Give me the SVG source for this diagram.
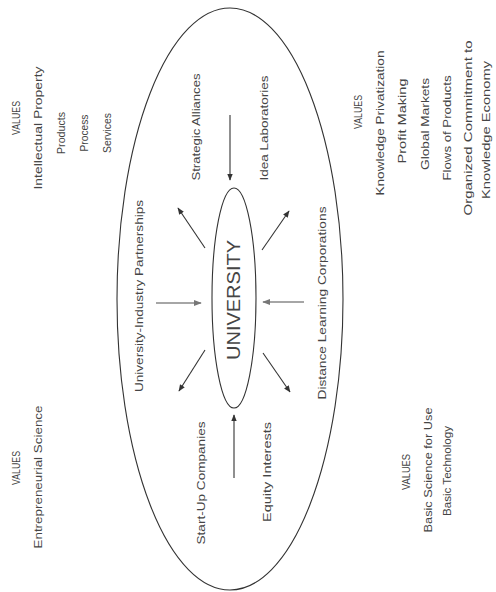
<svg xmlns="http://www.w3.org/2000/svg" width="496" height="592" viewBox="0 0 496 592">
<style>
  text { font-family: "Liberation Sans", Arial, sans-serif; fill: #454545; text-anchor: middle; }
  .v { font-size: 10.5px; }
  .lab { font-size: 10.5px; }
  .uni { font-size: 19px; }
  .ell { fill: none; stroke: #333; stroke-width: 1.1; }
  .arr { stroke: #333; stroke-width: 1.1; fill: none; marker-end: url(#ah); }
  .arrg { stroke: #888; stroke-width: 1.3; fill: none; marker-end: url(#ahg); }
</style>
<defs>
  <marker id="ah" viewBox="0 0 10 10" refX="9" refY="5" markerWidth="7" markerHeight="7" orient="auto" markerUnits="userSpaceOnUse">
    <path d="M0,1 L10,5 L0,9 z" fill="#333"/>
  </marker>
  <marker id="ahg" viewBox="0 0 10 10" refX="9" refY="5" markerWidth="8" markerHeight="8" orient="auto" markerUnits="userSpaceOnUse">
    <path d="M0,1 L10,5 L0,9 z" fill="#777"/>
  </marker>
</defs>
<rect width="496" height="592" fill="#fff"/>

<g id="outer">
  <ellipse class="ell" cx="230" cy="299" rx="113" ry="291"/>
</g>
<g id="university">
  <ellipse class="ell" cx="234" cy="298" rx="22" ry="110"/>
  <text class="uni" transform="translate(240,300) rotate(-90)" textLength="120" lengthAdjust="spacingAndGlyphs">UNIVERSITY</text>
</g>

<g id="strategic-alliances"><text class="lab" transform="translate(200,127) rotate(-90)" textLength="107" lengthAdjust="spacingAndGlyphs">Strategic Alliances</text></g>
<g id="idea-laboratories"><text class="lab" transform="translate(268,128) rotate(-90)" textLength="105" lengthAdjust="spacingAndGlyphs">Idea Laboratories</text></g>
<g id="university-industry"><text class="lab" transform="translate(143,296) rotate(-90)" textLength="192" lengthAdjust="spacingAndGlyphs">University-Industry Partnerships</text></g>
<g id="distance-learning"><text class="lab" transform="translate(326,303) rotate(-90)" textLength="193" lengthAdjust="spacingAndGlyphs">Distance Learning Corporations</text></g>
<g id="start-up"><text class="lab" transform="translate(205,483) rotate(-90)" textLength="123" lengthAdjust="spacingAndGlyphs">Start-Up Companies</text></g>
<g id="equity"><text class="lab" transform="translate(271,472) rotate(-90)" textLength="100" lengthAdjust="spacingAndGlyphs">Equity Interests</text></g>

<g id="values-top-left">
  <text class="v" transform="translate(20,118) rotate(-90)" textLength="34" lengthAdjust="spacingAndGlyphs">VALUES</text>
  <text class="v" transform="translate(42,128) rotate(-90)" textLength="123" lengthAdjust="spacingAndGlyphs">Intellectual Property</text>
  <text class="v" transform="translate(65,133) rotate(-90)" textLength="42" lengthAdjust="spacingAndGlyphs">Products</text>
  <text class="v" transform="translate(88,133) rotate(-90)" textLength="37" lengthAdjust="spacingAndGlyphs">Process</text>
  <text class="v" transform="translate(111,133) rotate(-90)" textLength="40" lengthAdjust="spacingAndGlyphs">Services</text>
</g>
<g id="values-top-right">
  <text class="v" transform="translate(362,112) rotate(-90)" textLength="34" lengthAdjust="spacingAndGlyphs">VALUES</text>
  <text class="v" transform="translate(384,123) rotate(-90)" textLength="145" lengthAdjust="spacingAndGlyphs">Knowledge Privatization</text>
  <text class="v" transform="translate(406,121) rotate(-90)" textLength="85" lengthAdjust="spacingAndGlyphs">Profit Making</text>
  <text class="v" transform="translate(429,124) rotate(-90)" textLength="92" lengthAdjust="spacingAndGlyphs">Global Markets</text>
  <text class="v" transform="translate(451,128) rotate(-90)" textLength="105" lengthAdjust="spacingAndGlyphs">Flows of Products</text>
  <text class="v" transform="translate(472,128) rotate(-90)" textLength="175" lengthAdjust="spacingAndGlyphs">Organized Commitment to</text>
  <text class="v" transform="translate(490,130) rotate(-90)" textLength="138" lengthAdjust="spacingAndGlyphs">Knowledge Economy</text>
</g>
<g id="values-bottom-left">
  <text class="v" transform="translate(20,468) rotate(-90)" textLength="34" lengthAdjust="spacingAndGlyphs">VALUES</text>
  <text class="v" transform="translate(42,477) rotate(-90)" textLength="143" lengthAdjust="spacingAndGlyphs">Entrepreneurial Science</text>
</g>
<g id="values-bottom-right">
  <text class="v" transform="translate(410,472) rotate(-90)" textLength="36" lengthAdjust="spacingAndGlyphs">VALUES</text>
  <text class="v" transform="translate(432,470) rotate(-90)" textLength="125" lengthAdjust="spacingAndGlyphs">Basic Science for Use</text>
  <text class="v" transform="translate(451,471) rotate(-90)" textLength="90" lengthAdjust="spacingAndGlyphs">Basic Technology</text>
</g>

<g id="connectors">
  <line class="arr" x1="230" y1="115" x2="230" y2="180"/>
  <line class="arr" x1="234" y1="478" x2="234" y2="415"/>
  <line class="arrg" x1="156" y1="303" x2="201" y2="303"/>
  <line class="arrg" x1="304" y1="302" x2="263" y2="302"/>
  <line class="arr" x1="205" y1="248" x2="178" y2="208"/>
  <line class="arr" x1="262" y1="250" x2="289" y2="211"/>
  <line class="arr" x1="205" y1="350" x2="179" y2="391"/>
  <line class="arr" x1="263" y1="353" x2="290" y2="392"/>
</g>
</svg>
